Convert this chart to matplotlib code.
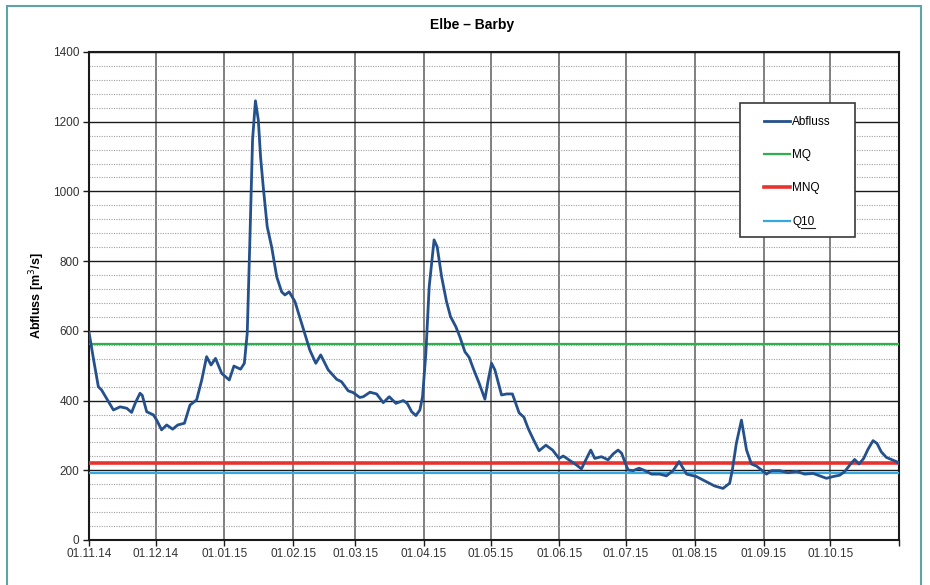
import matplotlib
matplotlib.use('Agg')
import matplotlib.pyplot as plt
from matplotlib.patches import Rectangle
from matplotlib.lines import Line2D
import numpy as np
import datetime as dt

plt.rcParams['font.family'] = ['Liberation Sans', 'DejaVu Sans']

# Abfluss Elbe / Pegel Barby, Tage ab 01.11.2014
days = [0, 2, 4.2, 5.7, 8, 11, 14, 17, 19.2, 21, 23, 24, 26, 29, 30.5, 32.7, 35, 37.7,
        40, 43, 45.5, 48.5, 50.8, 53, 55, 57, 59.8, 63.2, 65.3, 68.3, 70, 71.3, 72.5,
        73.7, 75, 76.3, 77.3, 78.5, 80.3, 82.3, 84.6, 86.8, 88.3, 90.2, 92.8, 95.8,
        99.5, 102.2, 104.4, 107.8, 111.6, 113.8, 116.8, 119, 122, 123.6, 126.6, 129.6,
        132.6, 135.3, 138.3, 141.6, 143.4, 145.4, 147.3, 149.1, 150.3, 151.8, 153.3,
        155.5, 156.9, 158.9, 161.1, 162.9, 165.3, 167.1, 169.4, 171.3, 173.1, 175.8,
        178.4, 179.9, 181.4, 182.9, 185.9, 188.2, 190.8, 193.8, 196, 197.9, 200.2,
        202.8, 205.9, 208.9, 211.8, 213.7, 216.7, 219.7, 221.9, 224.2, 226.1, 227.9,
        230.9, 233.9, 236.2, 238.4, 240, 241.4, 242.9, 245.2, 247.9, 250.5, 253.5,
        257.2, 260.2, 263.2, 265.9, 267.7, 269.3, 273.7, 278.2, 281.9, 285.7, 288.7,
        289.9, 291.7, 294, 296.3, 298.5, 300.8, 303, 305.3, 307.5, 311.3, 315, 318.8,
        322.5, 326.3, 329.3, 332.3, 335.3, 338.3, 340.5, 342.8, 345, 347, 349.1, 351,
        353.3, 355.1, 357, 359.3, 361.5, 363.8, 365]
flow = [596, 520, 440, 430, 405, 373, 382, 378, 366, 395, 421, 415, 368, 359, 344, 316,
        330, 318, 330, 335, 387, 402, 459, 526, 502, 521, 478, 459, 499, 490, 507, 593,
        861, 1148, 1260, 1205, 1100, 1014, 899, 841, 755, 712, 703, 712, 684, 622, 545,
        507, 531, 488, 461, 454, 428, 423, 409, 411, 424, 419, 394, 411, 392, 400, 392,
        368, 357, 373, 411, 536, 727, 861, 841, 755, 684, 641, 612, 583, 540, 524, 493,
        450, 404, 459, 507, 488, 416, 419, 419, 365, 352, 320, 289, 256, 272, 258, 234,
        241, 228, 215, 204, 234, 258, 234, 239, 230, 247, 258, 249, 225, 201, 199, 206,
        199, 189, 189, 184, 199, 225, 206, 189, 182, 167, 155, 148, 163, 201, 277, 344,
        258, 218, 212, 201, 189, 199, 199, 193, 197, 189, 191, 184, 177, 182, 186, 196,
        215, 231, 218, 234, 260, 285, 277, 253, 237, 231, 225, 220]

MQ = 561
MNQ = 220
Q10 = 193

start = dt.datetime(2014, 11, 1)
dates = [start + dt.timedelta(days=d) for d in days]
month_ticks = [dt.datetime(2014 + (10 + i) // 12, (10 + i) % 12 + 1, 1) for i in range(13)]
tick_labels = [m.strftime('%d.%m.%y') for m in month_ticks[:-1]] + ['']

fig = plt.figure(figsize=(9.3, 5.85), dpi=100)
ax = fig.add_axes([89 / 930, 45 / 585, 810 / 930, 488 / 585])

# Rahmen um die ganze Grafik (unten abgeschnitten)
fig.patches.append(Rectangle((7 / 930, -0.05), 914 / 930, 1.05 - 6 / 585,
                             transform=fig.transFigure, fill=False,
                             edgecolor='#5fa3a8', linewidth=1.5))

ax.set_ylim(0, 1400)
ax.set_xlim(month_ticks[0], month_ticks[-1])
ax.set_yticks(np.arange(0, 1401, 200))
ax.set_yticks(np.arange(0, 1401, 40), minor=True)
ax.set_xticks(month_ticks)
ax.set_xticklabels(tick_labels)

ax.grid(which='minor', axis='y', color='#a0a0a0', linestyle=(0, (1, 1.2)), linewidth=0.8)
ax.grid(which='major', axis='y', color='#1a1a1a', linestyle='-', linewidth=1.0)
ax.grid(which='major', axis='x', color='#6a6a6a', linestyle='-', linewidth=1.2)
ax.set_axisbelow(True)

ax.plot(dates, flow, color='#24508c', linewidth=2.0, label='Abfluss', zorder=4)
ax.axhline(MQ, color='#2eb04f', linewidth=1.6, label='MQ', zorder=3)
ax.axhline(MNQ, color='#e8322e', linewidth=2.6, label='MNQ', zorder=3)
ax.axhline(Q10, color='#35a8e0', linewidth=1.6, label='Q10', zorder=3)

for s in ax.spines.values():
    s.set_color('#1a1a1a')
    s.set_linewidth(1.5)

ax.tick_params(axis='both', which='major', direction='out', length=4, width=1,
               labelsize=8.5, labelcolor='#333333', color='#1a1a1a', pad=3)
ax.tick_params(axis='y', which='minor', length=0)
ax.tick_params(axis='x', pad=2)

ax.set_ylabel('Abfluss [m$^3$/s]', fontsize=9, fontweight='bold', labelpad=4)
fig.text(0.508, 1 - 25 / 585, 'Elbe – Barby', ha='center', va='center',
         fontsize=10, fontweight='bold')

# Legendenkasten
box = Rectangle((740 / 930, 1 - 237 / 585), 115 / 930, 134 / 585, transform=fig.transFigure,
                facecolor='white', edgecolor='#3a3a3a', linewidth=1.2, zorder=5)
fig.patches.append(box)
leg = fig.legend(loc='upper left', bbox_to_anchor=(764 / 930, 1 - 116 / 585),
                 frameon=False, fontsize=8.5, borderpad=0, borderaxespad=0,
                 handlelength=2.2, handletextpad=0.2, labelspacing=1.8)
leg.set_zorder(6)

# "10" in Q10 unterstreichen
fig.canvas.draw()
t = leg.get_texts()[3]
bb = t.get_window_extent()
x0 = bb.x0 + 0.41 * bb.width
fig.lines.append(Line2D([x0 / 930, bb.x1 / 930], [(bb.y0 - 0.5) / 585] * 2,
                        transform=fig.transFigure, color='#222222', linewidth=0.8, zorder=7))

fig.savefig('out.png', dpi=100)
